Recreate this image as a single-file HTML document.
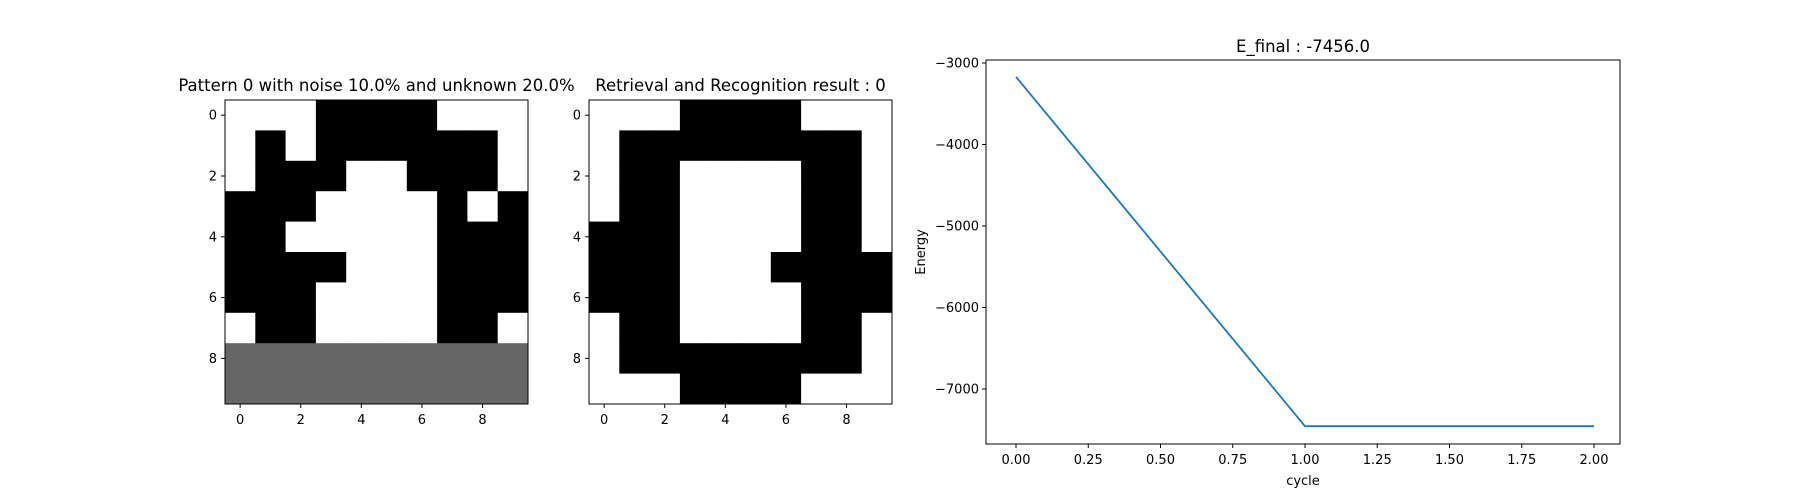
<!DOCTYPE html>
<html><head><meta charset="utf-8"><style>
html,body{margin:0;padding:0;background:#fff;}
svg{display:block;font-family:"DejaVu Sans","Liberation Sans",sans-serif;}
</style></head><body>
<svg id="fig" width="1800" height="499" viewBox="0 0 1800 499" xmlns="http://www.w3.org/2000/svg">
<rect width="1800" height="499" fill="#fff"/>
<g id="hm1"></g>
<g id="hm2"></g>
<g id="lc"></g>
</svg>
<script>
const noisyPattern = [
 [0,0,0,1,1,1,1,0,0,0],
 [0,1,0,1,1,1,1,1,1,0],
 [0,1,1,1,0,0,1,1,1,0],
 [1,1,1,0,0,0,0,1,0,1],
 [1,1,0,0,0,0,0,1,1,1],
 [1,1,1,1,0,0,0,1,1,1],
 [1,1,1,0,0,0,0,1,1,1],
 [0,1,1,0,0,0,0,1,1,0],
 [2,2,2,2,2,2,2,2,2,2],
 [2,2,2,2,2,2,2,2,2,2]
];
const retrievedPattern = [
 [0,0,0,1,1,1,1,0,0,0],
 [0,1,1,1,1,1,1,1,1,0],
 [0,1,1,0,0,0,0,1,1,0],
 [0,1,1,0,0,0,0,1,1,0],
 [1,1,1,0,0,0,0,1,1,0],
 [1,1,1,0,0,0,1,1,1,1],
 [1,1,1,0,0,0,0,1,1,1],
 [0,1,1,0,0,0,0,1,1,0],
 [0,1,1,1,1,1,1,1,1,0],
 [0,0,0,1,1,1,1,0,0,0]
];
const heatTicks = [0,2,4,6,8];
const cycles = [0,1,2];
const energy = [-3170,-7456,-7456];
const yTicks = [-3000,-4000,-5000,-6000,-7000];
const xTicks = [0,0.25,0.5,0.75,1,1.25,1.5,1.75,2];
const xTickLabels = ["0.00","0.25","0.50","0.75","1.00","1.25","1.50","1.75","2.00"];

const NS="http://www.w3.org/2000/svg";
function mk(parent,tag,attrs,text){const e=document.createElementNS(NS,tag);for(const k in attrs)e.setAttribute(k,attrs[k]);if(text!==undefined)e.textContent=text;parent.appendChild(e);return e;}
const colors=["#ffffff","#000000","#666666"];

function heatmap(g,data,x0,y0,w,h,title){
  const cw=w/10,ch=h/10;
  data.forEach((row,r)=>row.forEach((v,c)=>{
    const cell=mk(g,'rect',{x:x0+c*cw,y:y0+r*ch,width:cw+0.5,height:ch+0.5,fill:colors[v]});
    
    
  }));
  const fr=mk(g,'rect',{x:x0,y:y0,width:w,height:h,fill:'none',stroke:'#000','stroke-width':1});
  
  
  heatTicks.forEach(t=>{
    const cy=y0+(t+0.5)*ch, cx=x0+(t+0.5)*cw;
    mk(g,'line',{x1:x0-4,x2:x0,y1:cy,y2:cy,stroke:'#000'});
    const yl=mk(g,'text',{x:x0-8,y:cy+4.5,'text-anchor':'end','font-size':13},String(t));
    
    
    mk(g,'line',{x1:cx,x2:cx,y1:y0+h,y2:y0+h+4,stroke:'#000'});
    const xl=mk(g,'text',{x:cx,y:y0+h+20,'text-anchor':'middle','font-size':13},String(t));
    
    
  });
  const tt=mk(g,'text',{x:x0+w/2,y:y0-9,'text-anchor':'middle','font-size':16.5},title);
  
  
}
heatmap(document.getElementById('hm1'),noisyPattern,225,100,303,304,"Pattern 0 with noise 10.0% and unknown 20.0%");
heatmap(document.getElementById('hm2'),retrievedPattern,589,100,303,304,"Retrieval and Recognition result : 0");

(function(){
  const g=document.getElementById('lc');
  const L=986,R=1620,T=60,B=444;
  const xs=v=>1016+(v-0)*(1594-1016)/2;
  const ys=v=>63+(-3000-v)*(389-63)/4000;
  mk(g,'rect',{x:L,y:T,width:R-L,height:B-T,fill:'none',stroke:'#000','stroke-width':1});
  yTicks.forEach(t=>{
    const y=ys(t);
    mk(g,'line',{x1:L-4,x2:L,y1:y,y2:y,stroke:'#000'});
    const tl=mk(g,'text',{x:L-7,y:y+4.5,'text-anchor':'end','font-size':13},'\u2212'+Math.abs(t));
    
    
  });
  xTicks.forEach((t,i)=>{
    const x=xs(t);
    mk(g,'line',{x1:x,x2:x,y1:B,y2:B+4,stroke:'#000'});
    const tl=mk(g,'text',{x:x,y:B+20,'text-anchor':'middle','font-size':13},xTickLabels[i]);
    
    
  });
  const pts=cycles.map((c,i)=>xs(c)+','+ys(energy[i])).join(' ');
  const pl=mk(g,'polyline',{points:pts,fill:'none',stroke:'#1f77b4','stroke-width':1.8});
  
  
  const t=mk(g,'text',{x:(L+R)/2,y:T-8,'text-anchor':'middle','font-size':16.5},'E_final : -7456.0');
  
  
  const xl=mk(g,'text',{x:(L+R)/2,y:485,'text-anchor':'middle','font-size':13},'cycle');
  
  
  const yl=mk(g,'text',{x:0,y:0,'text-anchor':'middle','font-size':13,transform:'translate(925,252) rotate(-90)'},'Energy');
  
  
})();
</script>
</body></html>
